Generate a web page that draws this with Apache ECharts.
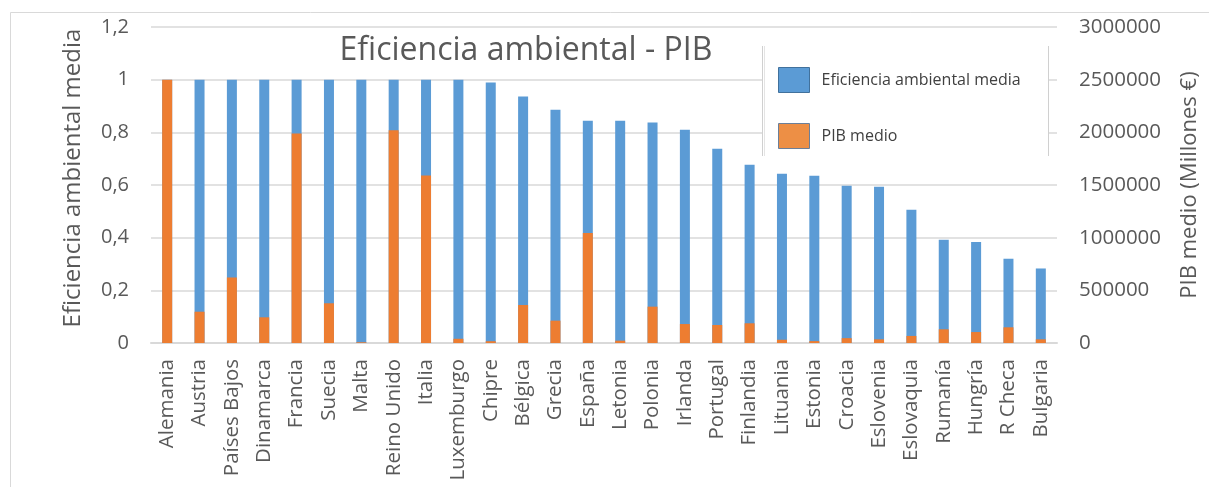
<!DOCTYPE html>
<html>
<head>
<meta charset="utf-8">
<script src="https://cdn.jsdelivr.net/npm/echarts@6/dist/echarts.min.js"></script>
<style>html,body{margin:0;padding:0;background:#fff;}#c{width:1209px;height:487px;}</style>
</head>
<body>
<div id="c"></div>
<script>
const countries = ["Alemania","Austria","Países Bajos","Dinamarca","Francia","Suecia","Malta","Reino Unido","Italia","Luxemburgo","Chipre","Bélgica","Grecia","España","Letonia","Polonia","Irlanda","Portugal","Finlandia","Lituania","Estonia","Croacia","Eslovenia","Eslovaquia","Rumanía","Hungría","R Checa","Bulgaria"];
const eficiencia = [1,1,1,1,1,1,1,1,1,1,0.989,0.936,0.886,0.844,0.844,0.837,0.81,0.738,0.677,0.643,0.635,0.597,0.593,0.506,0.392,0.384,0.32,0.283];
const pib = [2500000,297000,622000,244000,1990000,377000,7000,2020000,1590000,40000,17000,361000,212000,1045000,22000,345000,180000,171000,187000,31000,18000,46000,35000,67000,130000,104000,149000,35000];
const seriesNames = ["Eficiencia ambiental media","PIB medio"];
const titleText = "Eficiencia ambiental - PIB";
const leftAxisName = "Eficiencia ambiental media";
const rightAxisName = "PIB medio (Millones €)";

const FONT = "Open Sans";
const TXT = "#595959";
const chart = echarts.init(document.getElementById('c'), null, {renderer:'canvas'});
chart.setOption({
  animation:false,
  backgroundColor:'#fff',
  textStyle:{fontFamily:FONT},
  title:{text:titleText,left:521,top:30,textAlign:'center',textStyle:{fontFamily:FONT,fontSize:32,fontWeight:'normal',color:TXT}},
  graphic:[
    {type:'rect',shape:{x:10.5,y:12.5,width:1220,height:500},style:{fill:'none',stroke:'#d9d9d9',lineWidth:1},z:-10},
    {type:'rect',shape:{x:762,y:46,width:287,height:110},style:{fill:'#fff'},z:5},
    {type:'line',shape:{x1:762.5,y1:46,x2:762.5,y2:156},style:{stroke:'#d0d0d0',lineWidth:1},z:6},
    {type:'line',shape:{x1:764.5,y1:46,x2:764.5,y2:156},style:{stroke:'#e4e4e4',lineWidth:1},z:6},
    {type:'line',shape:{x1:1048.5,y1:46,x2:1048.5,y2:156},style:{stroke:'#d0d0d0',lineWidth:1},z:6}
  ],
  legend:{
    orient:'vertical',left:778,top:67,padding:0,itemWidth:31,itemHeight:25,itemGap:30,z:10,
    textStyle:{fontFamily:FONT,fontSize:16,color:'#404040',padding:[0,0,0,7]},
    data:[
      {name:seriesNames[0],icon:'rect',itemStyle:{color:'#5B9BD5',borderColor:'#41719C',borderWidth:1}},
      {name:seriesNames[1],icon:'rect',itemStyle:{color:'#ED8F45',borderColor:'#6b7f99',borderWidth:1}}
    ]
  },
  grid:{left:151,right:152,top:27,bottom:144},
  xAxis:{
    type:'category',data:countries,
    axisLine:{lineStyle:{color:'#d9d9d9',width:2}},
    axisTick:{show:false},
    axisLabel:{rotate:90,interval:0,fontFamily:FONT,fontSize:20.5,color:TXT,margin:16}
  },
  yAxis:[
    {type:'value',min:0,max:1.2,interval:0.2,name:leftAxisName,nameLocation:'middle',nameGap:66,
     nameTextStyle:{fontFamily:FONT,fontSize:24,color:TXT,padding:[0,0,0,14]},
     axisLine:{show:false},axisTick:{show:false},
     splitLine:{lineStyle:{color:'#d9d9d9',width:1.5}},
     axisLabel:{fontFamily:FONT,fontSize:20,color:TXT,margin:22,formatter:v=>String(Math.round(v*10)/10).replace('.',',')}},
    {type:'value',min:0,max:3000000,interval:500000,name:rightAxisName,nameLocation:'middle',nameGap:122,
     nameTextStyle:{fontFamily:FONT,fontSize:22,color:TXT,padding:[0,0,0,0]},
     axisLine:{show:false},axisTick:{show:false},splitLine:{show:false},
     axisLabel:{fontFamily:FONT,fontSize:20.5,color:TXT,margin:22,formatter:v=>String(v)}}
  ],
  series:[
    {name:seriesNames[0],type:'bar',data:eficiencia,yAxisIndex:0,barWidth:10,barGap:'-100%',itemStyle:{color:'#5B9BD5'}},
    {name:seriesNames[1],type:'bar',data:pib,yAxisIndex:1,barWidth:10,barGap:'-100%',itemStyle:{color:'#ED7D31'}}
  ]
});
</script>
</body>
</html>
